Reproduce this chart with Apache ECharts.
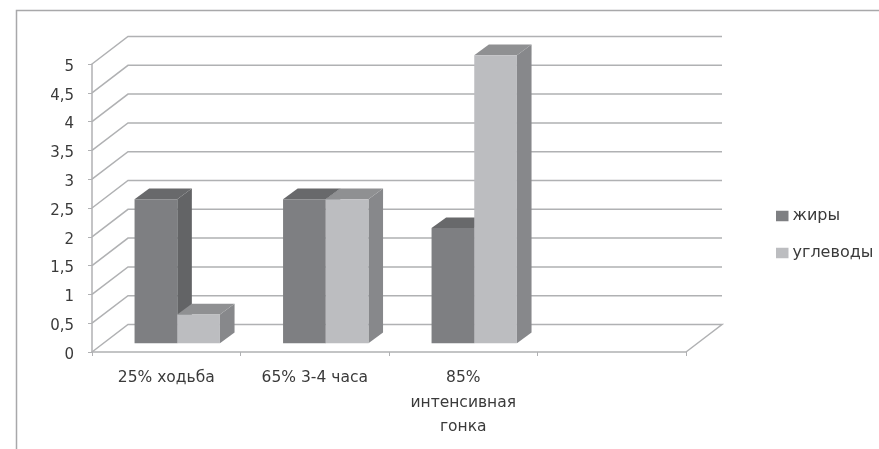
<!DOCTYPE html>
<html><head><meta charset="utf-8">
<script src="https://cdn.jsdelivr.net/npm/echarts@6/dist/echarts.min.js"></script>
<style>html,body{margin:0;padding:0;background:#fff;overflow:hidden}#c{width:879px;height:449px;filter:blur(0.4px)}</style>
</head><body><div id="c"></div>
<script>
const categories = ['25% ходьба', '65% 3-4 часа', '85%\nинтенсивная\nгонка', ''];
const fats = [2.5, 2.5, 2, null];
const carbs = [0.5, 2.5, 5, null];
const yTicks = [0, 0.5, 1, 1.5, 2, 2.5, 3, 3.5, 4, 4.5, 5];

const WALL = [36, -27.5];
const BAR_FRONT = [11, -8.7];
const BAR_DEPTH = [14.6, -10.7];
const BAR_RATIO = 0.2875;
const GRID_COLOR = '#b0b1b3';

function barSeries(name, values, slot, front, top, side) {
  return {
    name, type: 'custom', coordinateSystem: 'cartesian2d', z: 3 + slot,
    itemStyle: { color: front },
    data: values.map((v, i) => [i, v]),
    renderItem(params, api) {
      const v = api.value(1);
      if (v == null || isNaN(v)) return;
      const w = api.size([1, 0])[0] * BAR_RATIO;
      const c = api.coord([api.value(0), v]);
      const b = api.coord([api.value(0), 0]);
      const x0 = c[0] + BAR_FRONT[0] + (slot - 1) * w, x1 = x0 + w;
      const yt = c[1] + BAR_FRONT[1], yb = b[1] + BAR_FRONT[1];
      const dx = BAR_DEPTH[0], dy = BAR_DEPTH[1];
      const poly = (points, fill) => ({ type: 'polygon', shape: { points }, style: { fill } });
      return { type: 'group', children: [
        poly([[x1, yt], [x1 + dx, yt + dy], [x1 + dx, yb + dy], [x1, yb]], side),
        poly([[x0, yt], [x0 + dx, yt + dy], [x1 + dx, yt + dy], [x1, yt]], top),
        poly([[x0, yt], [x1, yt], [x1, yb], [x0, yb]], front)
      ]};
    }
  };
}

const chart = echarts.init(document.getElementById('c'), null, { renderer: 'canvas' });
chart.setOption({
  animation: false,
  backgroundColor: '#fff',
  textStyle: { fontFamily: 'DejaVu Sans' },
  grid: { left: 92, top: 64, width: 594, height: 288 },
  xAxis: {
    type: 'category', data: categories,
    axisLine: { lineStyle: { color: GRID_COLOR, width: 1.5 } },
    axisTick: { show: true, alignWithLabel: false, length: 4, lineStyle: { color: GRID_COLOR, width: 1 } },
    axisLabel: { interval: 0, color: '#3a3a3a', fontSize: 15.5, lineHeight: 24.5, margin: 14 }
  },
  yAxis: {
    type: 'value', min: 0, max: 5, interval: 0.5,
    axisLine: { show: true, lineStyle: { color: GRID_COLOR, width: 1.5 } },
    axisTick: { show: true, length: 4, lineStyle: { color: GRID_COLOR, width: 1 } },
    splitLine: { show: false },
    axisLabel: { color: '#3a3a3a', fontSize: 15, margin: 18, verticalAlign: 'top', lineHeight: 6, formatter: v => String(v).replace('.', ',') }
  },
  legend: {
    orient: 'vertical', left: 776, top: 208, padding: 0, itemWidth: 12.5, itemHeight: 10.5, itemGap: 21,
    icon: 'rect', data: ['жиры', 'углеводы'], selectedMode: false,
    textStyle: { color: '#3a3a3a', fontSize: 16, padding: [5, 0, 0, -1] }
  },
  graphic: [
    { type: 'polyline', silent: true, z: 0, shape: { points: [[16.5, 449], [16.5, 10.5], [879, 10.5]] },
      style: { fill: null, stroke: '#a8a8aa', lineWidth: 1.5 } }
  ],
  series: [
    {
      type: 'custom', coordinateSystem: 'cartesian2d', z: 1, silent: true, legendHoverLink: false,
      data: yTicks.map(v => [0, v]),
      renderItem(params, api) {
        const r = params.coordSys, v = api.value(1);
        const p = api.coord([0, v]);
        const y = p[1], xl = r.x, xr = r.x + r.width;
        const pts = [[xl, y], [xl + WALL[0], y + WALL[1]], [xr + WALL[0], y + WALL[1]]];
        if (v === 0) pts.push([xr, y]);
        return { type: 'polyline', shape: { points: pts }, style: { fill: null, stroke: GRID_COLOR, lineWidth: 1.5 } };
      }
    },
    barSeries('жиры', fats, 0, '#7e7f82', '#68696b', '#636466'),
    barSeries('углеводы', carbs, 1, '#bcbdc0', '#8f9092', '#87888b')
  ]
});
</script></body></html>
